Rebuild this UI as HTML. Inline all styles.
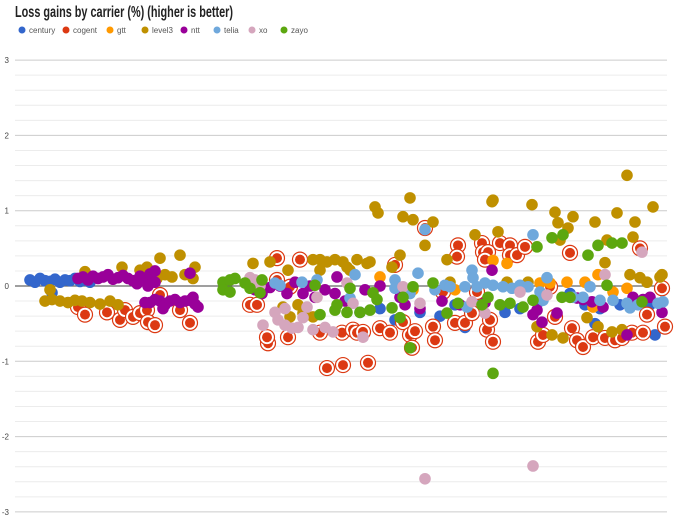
<!DOCTYPE html>
<html><head><meta charset="utf-8"><style>
html,body{margin:0;padding:0;background:#fff;}
svg{display:block;font-family:"Liberation Sans",sans-serif;}
</style></head><body>
<svg id="chart" width="675" height="517" viewBox="0 0 675 517" xmlns="http://www.w3.org/2000/svg">
<text x="15" y="17" font-size="16" font-weight="bold" fill="#222" textLength="218" lengthAdjust="spacingAndGlyphs">Loss gains by carrier (%) (higher is better)</text>
<g id="grid"></g>
<g id="legend"></g>
<g id="marks"></g>
</svg>
<script>
const seriesNames = ["century","cogent","gtt","level3","ntt","telia","xo","zayo"];
const seriesColors = ["#3366cc","#dc3912","#ff9900","#bf9000","#990099","#6fa8dc","#d5a6bd","#5ca70f"];
const yTicks = [3,2,1,0,-1,-2,-3];
const century = [[15,.08],[20,.05],[25,.1],[30,.07],[35,.06],[40,.09],[45,.05],[50,.08],[55,.07],[60,.1],[65,.06],[70,.08],[75,.05],[125,.1],[37,-.09],[345,-.35],[365,-.3],[380,-.45],[405,-.35],[425,-.4],[440,-.25],[465,-.2],[490,-.35],[505,-.3],[525,-.2],[555,-.1],[570,-.25],[585,-.3],[605,-.25],[635,-.25],[640,-.65],[450,-.55],[580,-.5]];
const cogent = [[63,-.28],[70,-.38],[92,-.35],[105,-.45],[110,-.32],[118,-.41],[125,-.36],[132,-.32],[133,-.48],[140,-.52],[145,-.12],[165,-.32],[175,-.49],[262,.37],[285,.35],[235,-.25],[242,-.25],[253,-.76],[252,-.68],[273,-.68],[305,-.62],[312,-1.09],[328,-1.05],[353,-1.02],[327,-.62],[338,-.58],[342,-.62],[348,-.61],[365,-.56],[375,-.62],[388,-.48],[395,-.65],[400,-.6],[397,-.82],[410,.77],[380,.28],[418,-.54],[420,-.72],[262,.08],[275,-.01],[443,.54],[442,.39],[467,.57],[468,.45],[473,.45],[470,.35],[485,.57],[495,.54],[495,.41],[502,.41],[510,.52],[555,.44],[625,.5],[440,-.49],[450,-.49],[457,-.36],[472,-.58],[478,-.74],[475,-.45],[523,-.74],[528,-.65],[540,-.41],[557,-.56],[562,-.72],[568,-.81],[578,-.68],[590,-.69],[600,-.72],[607,-.69],[617,-.62],[628,-.62],[632,-.38],[650,-.54],[647,-.03],[428,-.08],[462,-.08],[535,-.01]];
const gtt = [[365,.12],[398,-.05],[440,-.05],[478,.34],[525,.04],[552,.05],[570,.05],[583,.15],[598,-.08],[612,-.03],[578,-.28],[535,.04],[492,.3]];
const level3 = [[30,-.2],[37,-.18],[45,-.2],[53,-.22],[60,-.19],[67,-.2],[75,-.22],[85,-.24],[95,-.2],[103,-.25],[35,-.05],[70,.19],[107,.25],[125,.21],[132,.25],[135,.15],[142,.1],[145,.37],[150,.15],[157,.12],[165,.41],[170,.15],[180,.25],[178,.1],[238,.3],[255,.32],[273,.21],[298,.35],[305,.35],[312,.32],[320,.35],[328,.32],[332,.25],[342,.35],[352,.3],[355,.32],[305,.21],[335,.21],[268,-.28],[275,-.41],[288,-.36],[298,-.41],[283,-.25],[360,1.05],[363,.97],[395,1.17],[388,.92],[398,.88],[418,.85],[410,.54],[385,.41],[377,.25],[477,1.12],[478,1.14],[517,1.08],[460,.68],[432,.35],[483,.72],[540,.98],[543,.84],[558,.92],[553,.77],[545,.61],[580,.85],[592,.61],[602,.97],[612,1.47],[620,.85],[618,.65],[638,1.05],[590,.31],[615,.15],[625,.11],[632,.05],[645,.12],[647,.15],[435,.05],[492,.05],[522,-.54],[537,-.65],[548,-.69],[572,-.42],[583,-.54],[597,-.61],[607,-.58],[513,.05]];
const ntt = [[63,.1],[68,.12],[73,.08],[78,.13],[83,.1],[88,.12],[93,.15],[98,.09],[103,.11],[108,.14],[113,.1],[118,.07],[122,.03],[125,.13],[130,.1],[135,.16],[140,.2],[133,0],[140,.05],[135,-.22],[140,-.18],[145,-.2],[150,-.25],[155,-.2],[160,-.18],[165,-.22],[170,-.2],[175,-.19],[180,-.24],[183,-.28],[178,-.15],[130,-.22],[148,-.3],[175,.17],[240,-.05],[247,-.1],[255,-.02],[265,0],[272,-.1],[280,.05],[288,-.1],[295,0],[310,-.05],[320,-.1],[322,.12],[350,-.05],[365,0],[385,-.15],[390,-.25],[405,-.3],[427,-.2],[445,-.25],[477,.21],[518,-.38],[522,-.32],[527,-.48],[542,-.36],[562,-.16],[568,-.18],[577,-.21],[588,-.28],[618,-.15],[628,-.18],[635,-.15],[647,-.35],[612,-.65],[300,-.15],[330,-.2],[470,-.22]];
const telia = [[260,.04],[265,.01],[287,.05],[302,.08],[340,.15],[335,-.16],[380,.08],[380,-.03],[403,.17],[410,.75],[430,.01],[435,-.01],[457,.21],[458,.11],[450,-.01],[462,-.01],[470,.04],[478,.01],[488,-.01],[497,-.03],[505,.01],[513,-.01],[532,.11],[518,.68],[525,-.08],[528,-.19],[558,-.15],[568,-.15],[598,-.19],[612,-.23],[615,-.29],[623,-.25],[643,-.23],[648,-.21],[452,-.28],[575,-.01],[585,-.19],[420,-.05],[395,-.1]];
const xo = [[235,.11],[240,.08],[248,-.52],[260,-.35],[263,-.45],[270,-.52],[277,-.56],[283,-.55],[288,-.42],[292,-.28],[302,-.15],[298,-.58],[310,-.55],[318,-.61],[332,.04],[338,-.23],[348,-.68],[388,-.01],[405,-.23],[410,-2.56],[518,-2.39],[457,-.21],[470,-.36],[505,-.08],[532,-.12],[590,.15],[627,.45],[245,0],[270,-.3]];
const zayo = [[208,.05],[215,.08],[220,.1],[230,.04],[235,-.03],[245,-.09],[247,.08],[300,.01],[305,-.38],[320,-.32],[322,-.25],[332,-.35],[335,-.03],[345,-.35],[355,-.32],[358,-.09],[362,-.18],[377,-.29],[388,-.15],[385,-.42],[395,-.82],[398,-.01],[418,.04],[432,-.36],[443,-.23],[467,-.25],[473,-.15],[478,-1.16],[485,-.25],[495,-.23],[508,-.28],[518,-.19],[522,.52],[537,.64],[548,.68],[547,-.15],[555,-.15],[573,.41],[583,.54],[597,.57],[607,.57],[592,.01],[627,-.21],[208,-.05],[215,-.08]];
const allSeries = [century,cogent,gtt,level3,ntt,telia,xo,zayo];

const NS="http://www.w3.org/2000/svg";
const X0=15,X1=667,Y0=286,PXU=75.3;
function xScale(v){return X0+v*(X1-X0)/652;}
function yScale(v){return Y0-v*PXU;}
function mk(tag,attrs,parent){const e=document.createElementNS(NS,tag);for(const k in attrs)e.setAttribute(k,attrs[k]);parent.appendChild(e);return e;}

const grid=document.getElementById('grid');
for(let i=-15;i<=15;i++){
  const v=i/5;
  if(i%5===0) continue;
  const l=mk('line',{x1:X0,x2:X1,y1:yScale(v),y2:yScale(v),stroke:'#ececec','stroke-width':1},grid);
  
  
}
yTicks.forEach(t=>{
  const l=mk('line',{x1:X0,x2:X1,y1:yScale(t),y2:yScale(t),stroke:t===0?'#666':'#ccc','stroke-width':t===0?1.2:1},grid);
  
  
  const tx=mk('text',{x:9,y:yScale(t)+3,'font-size':8,'text-anchor':'end',fill:'#444'},grid);
  tx.textContent=String(t);
  
  
});

const legend=document.getElementById('legend');
const legX=[22,66,110,145,184,217,252,284];
seriesNames.forEach((n,i)=>{
  const g=mk('g',{},legend);
  
  
  mk('circle',{cx:legX[i],cy:30,r:3.5,fill:seriesColors[i]},g);
  const t=mk('text',{x:legX[i]+7,y:33,'font-size':8,fill:'#555'},g);
  t.textContent=n;
});

const marks=document.getElementById('marks');
allSeries.forEach((data,si)=>{
  const g=mk('g',{},marks);
  
  
  data.forEach(d=>{
    const cx=xScale(d[0]),cy=yScale(d[1]);
    if(seriesNames[si]==='cogent'){
      const o=mk('circle',{cx:cx,cy:cy,r:7.5,fill:'#fff',stroke:seriesColors[si],'stroke-width':1.2},g);
      
      
      const c=mk('circle',{cx:cx,cy:cy,r:5,fill:seriesColors[si]},g);
      
      
    } else {
      const c=mk('circle',{cx:cx,cy:cy,r:5.8,fill:seriesColors[si]},g);
      
      
    }
  });
});
</script>
</body></html>
